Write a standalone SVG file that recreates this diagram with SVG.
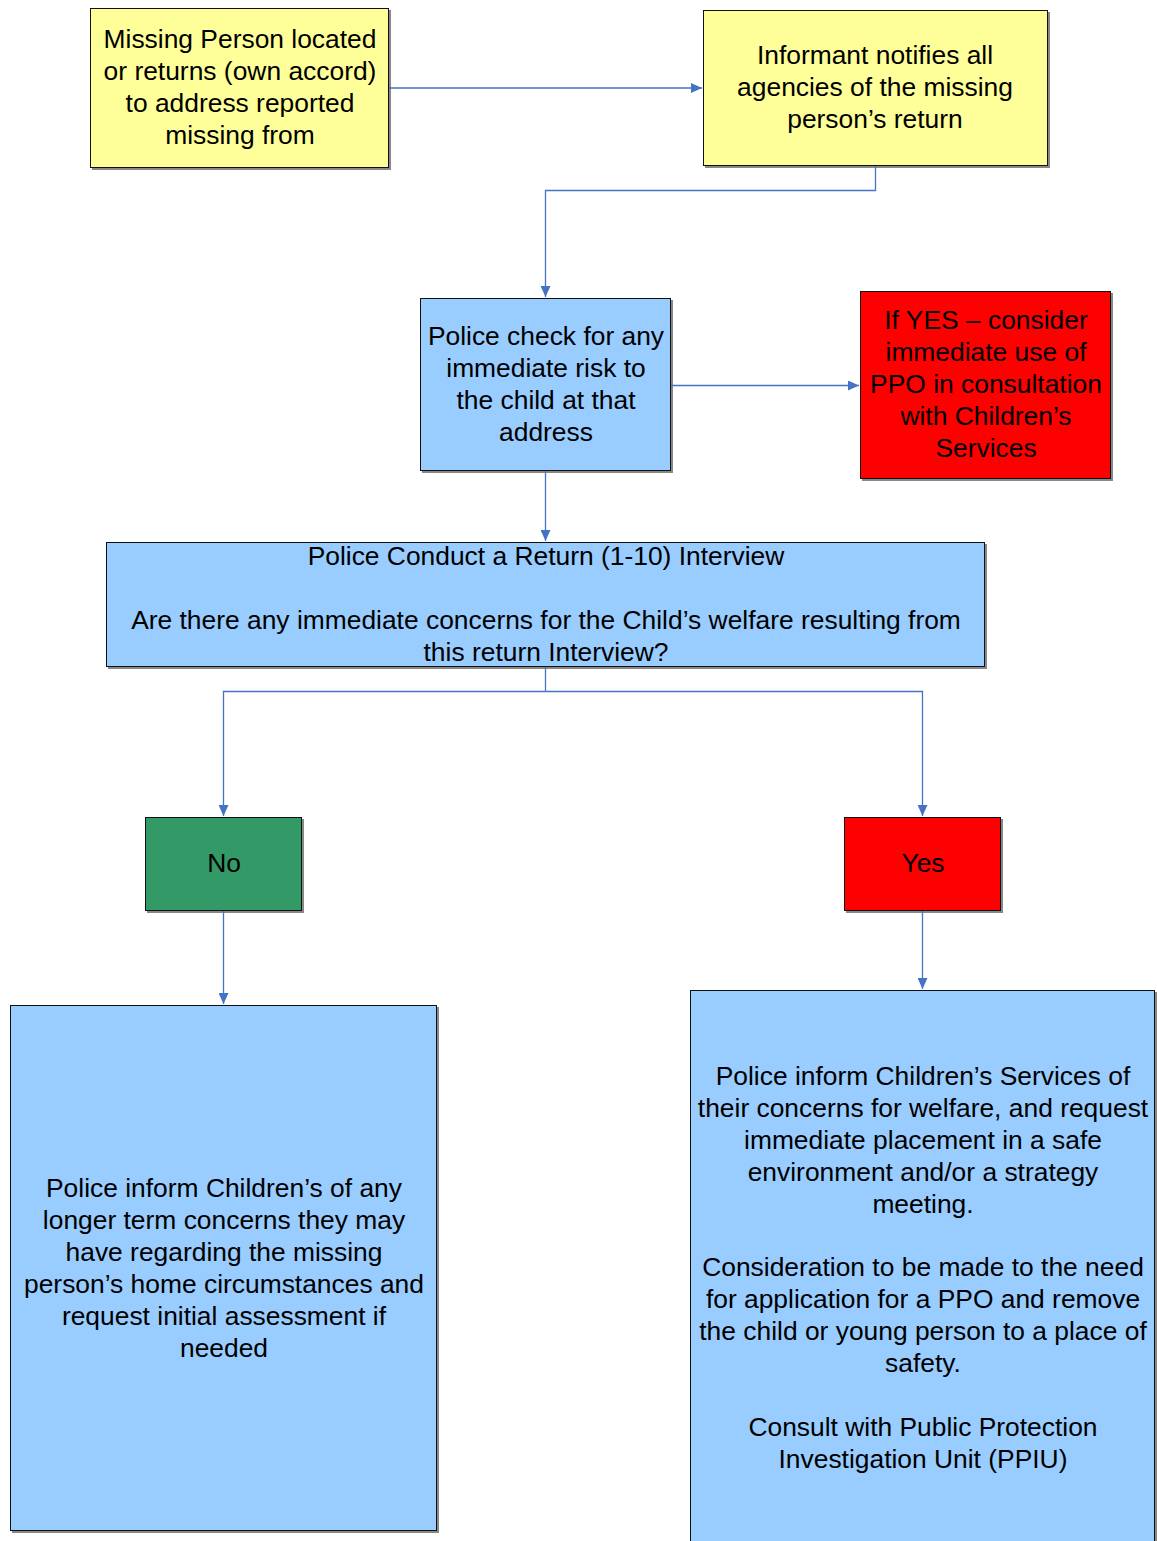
<svg xmlns="http://www.w3.org/2000/svg" width="1157" height="1541" viewBox="0 0 1157 1541">
<style>
.box{stroke:#111;stroke-width:1}
.sh{fill:#888}
.t{font-family:"Liberation Sans",Arial,sans-serif;font-size:26.4px;fill:#000;text-anchor:middle}
.c{fill:none;stroke:#4472C4;stroke-width:1.3}
</style>
<defs>
<marker id="ah" markerUnits="userSpaceOnUse" markerWidth="12" markerHeight="10" refX="11" refY="5" orient="auto">
<path d="M0,0 L11,5 L0,10 Z" fill="#4472C4"/>
</marker>
</defs>
<rect width="1157" height="1541" fill="#fff"/>
<g id="n1">
<rect class="sh" x="92" y="10" width="299" height="160"/>
<rect class="box" x="90.5" y="8.5" width="298" height="159" fill="#FFFF99"/>
<text class="t" x="240" y="48">Missing Person located</text>
<text class="t" x="240" y="80">or returns (own accord)</text>
<text class="t" x="240" y="112">to address reported</text>
<text class="t" x="240" y="144">missing from</text>
</g>
<g id="n2">
<rect class="sh" x="705" y="12" width="345" height="156"/>
<rect class="box" x="703.5" y="10.5" width="344" height="155" fill="#FFFF99"/>
<text class="t" x="875" y="64">Informant notifies all</text>
<text class="t" x="875" y="96">agencies of the missing</text>
<text class="t" x="875" y="128">person’s return</text>
</g>
<g id="n3">
<rect class="sh" x="422" y="300" width="251" height="173"/>
<rect class="box" x="420.5" y="298.5" width="250" height="172" fill="#99CCFF"/>
<text class="t" x="546" y="345">Police check for any</text>
<text class="t" x="546" y="377">immediate risk to</text>
<text class="t" x="546" y="409">the child at that</text>
<text class="t" x="546" y="441">address</text>
</g>
<g id="n4">
<rect class="sh" x="862" y="293" width="251" height="188"/>
<rect class="box" x="860.5" y="291.5" width="250" height="187" fill="#FF0000"/>
<text class="t" x="986" y="329">If YES – consider</text>
<text class="t" x="986" y="361">immediate use of</text>
<text class="t" x="986" y="393">PPO in consultation</text>
<text class="t" x="986" y="425">with Children’s</text>
<text class="t" x="986" y="457">Services</text>
</g>
<g id="n5">
<rect class="sh" x="108" y="544" width="879" height="125"/>
<rect class="box" x="106.5" y="542.5" width="878" height="124" fill="#99CCFF"/>
<text class="t" x="546" y="565">Police Conduct a Return (1-10) Interview</text>
<text class="t" x="546" y="629">Are there any immediate concerns for the Child’s welfare resulting from</text>
<text class="t" x="546" y="661">this return Interview?</text>
</g>
<g id="n6">
<rect class="sh" x="147" y="819" width="157" height="94"/>
<rect class="box" x="145.5" y="817.5" width="156" height="93" fill="#339966"/>
<text class="t" x="224" y="872">No</text>
</g>
<g id="n7">
<rect class="sh" x="846" y="819" width="157" height="94"/>
<rect class="box" x="844.5" y="817.5" width="156" height="93" fill="#FF0000"/>
<text class="t" x="923" y="872">Yes</text>
</g>
<g id="n8">
<rect class="sh" x="12" y="1007" width="427" height="526"/>
<rect class="box" x="10.5" y="1005.5" width="426" height="525" fill="#99CCFF"/>
<text class="t" x="224" y="1197">Police inform Children’s of any</text>
<text class="t" x="224" y="1229">longer term concerns they may</text>
<text class="t" x="224" y="1261">have regarding the missing</text>
<text class="t" x="224" y="1293">person’s home circumstances and</text>
<text class="t" x="224" y="1325">request initial assessment if</text>
<text class="t" x="224" y="1357">needed</text>
</g>
<g id="n9">
<rect class="sh" x="692" y="992" width="465" height="560"/>
<rect class="box" x="690.5" y="990.5" width="464" height="560" fill="#99CCFF"/>
<text class="t" x="923" y="1085">Police inform Children’s Services of</text>
<text class="t" x="923" y="1117">their concerns for welfare, and request</text>
<text class="t" x="923" y="1149">immediate placement in a safe</text>
<text class="t" x="923" y="1181">environment and/or a strategy</text>
<text class="t" x="923" y="1213">meeting.</text>
<text class="t" x="923" y="1276">Consideration to be made to the need</text>
<text class="t" x="923" y="1308">for application for a PPO and remove</text>
<text class="t" x="923" y="1340">the child or young person to a place of</text>
<text class="t" x="923" y="1372">safety.</text>
<text class="t" x="923" y="1436">Consult with Public Protection</text>
<text class="t" x="923" y="1468">Investigation Unit (PPIU)</text>
</g>
<g id="connectors">
<path class="c" d="M389,88 H702" marker-end="url(#ah)"/>
<path class="c" d="M875.5,166 V190.5 H545.5 V297" marker-end="url(#ah)"/>
<path class="c" d="M671,385.5 H859" marker-end="url(#ah)"/>
<path class="c" d="M545.5,471 V541" marker-end="url(#ah)"/>
<path class="c" d="M545.5,667 V691.5"/>
<path class="c" d="M545.5,691.5 H223.5 V816" marker-end="url(#ah)"/>
<path class="c" d="M545.5,691.5 H922.5 V816" marker-end="url(#ah)"/>
<path class="c" d="M223.5,911 V1004" marker-end="url(#ah)"/>
<path class="c" d="M922.5,911 V989" marker-end="url(#ah)"/>
</g>
</svg>
